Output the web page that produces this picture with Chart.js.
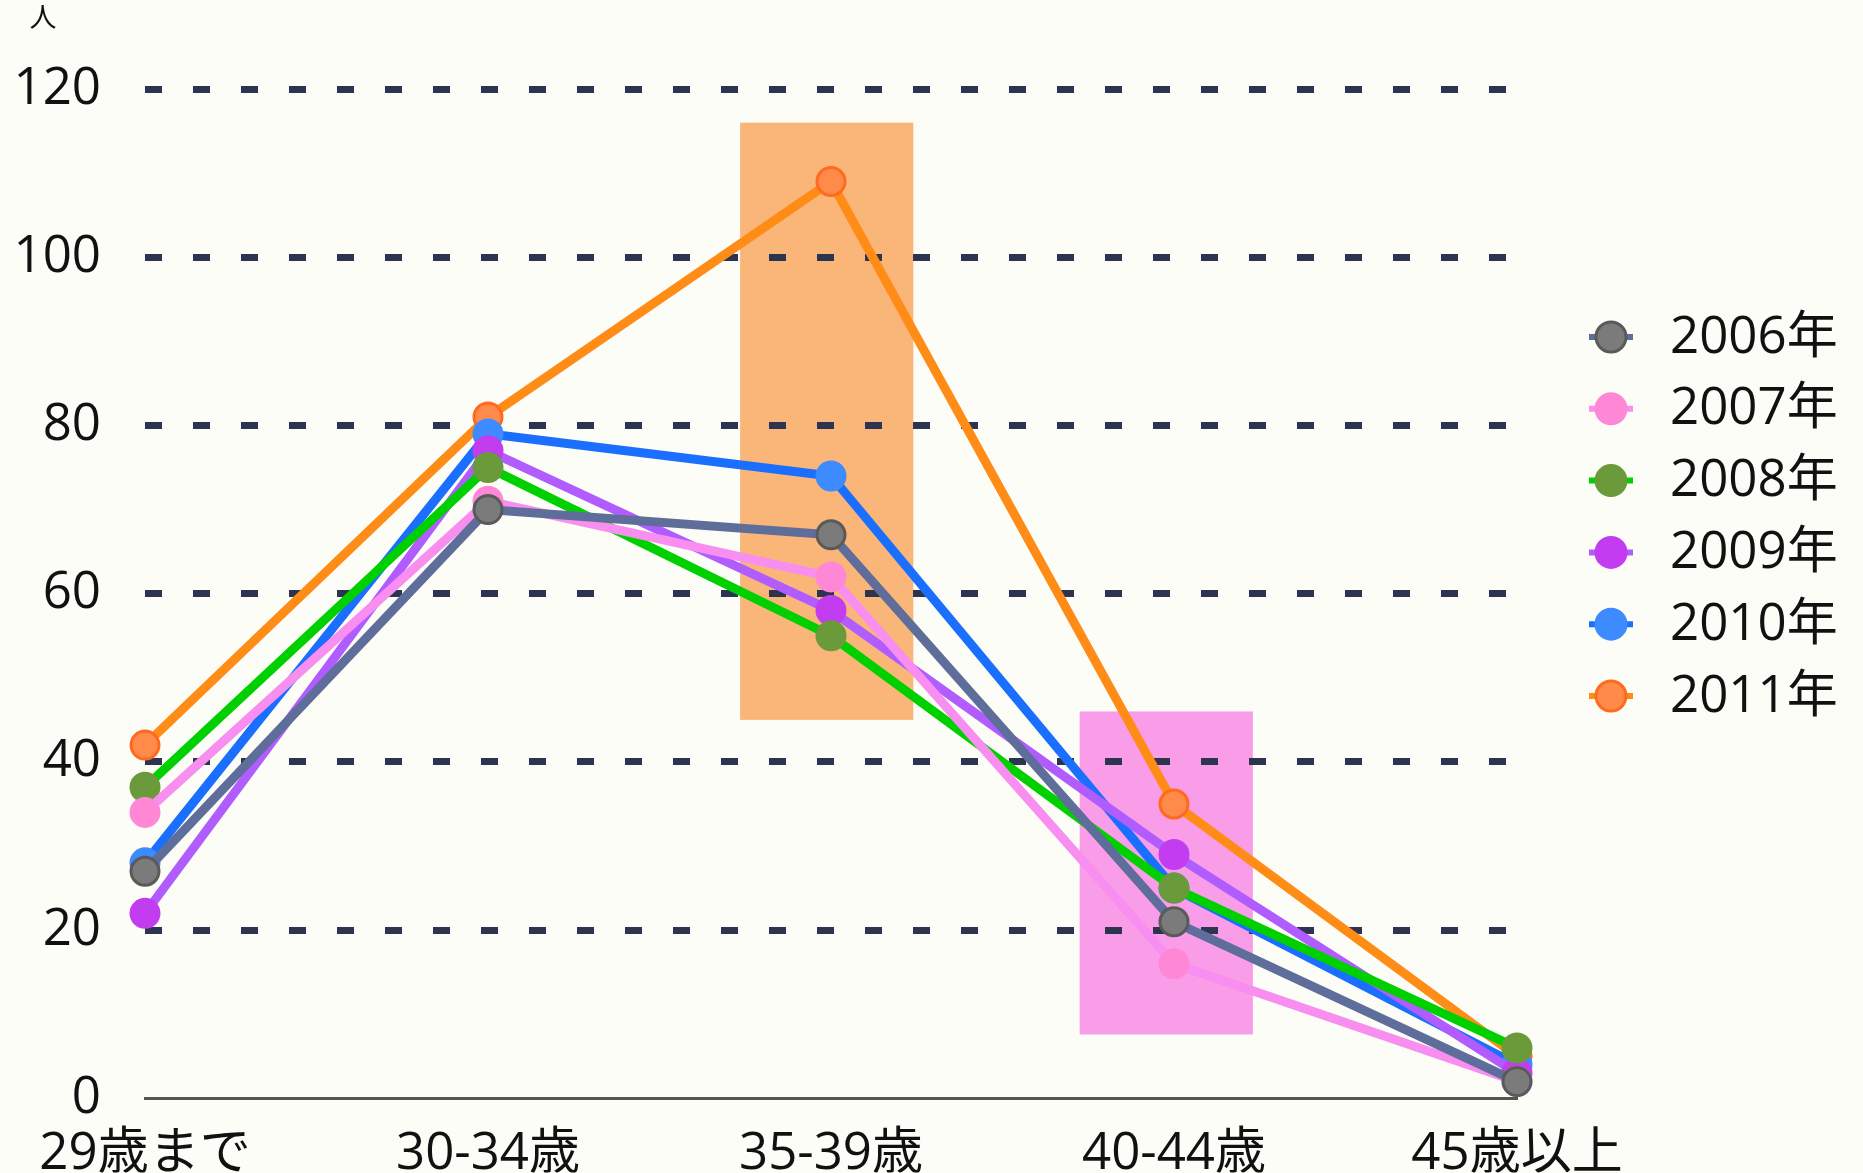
<!DOCTYPE html>
<html lang="ja">
<head>
<meta charset="utf-8">
<title>年齢別人数の推移</title>
<script src="https://cdn.jsdelivr.net/npm/chart.js@4/dist/chart.umd.min.js"></script>
<style>
  html, body { margin: 0; padding: 0; background: #fcfdf7; }
  #wrap { width: 1863px; height: 1173px; position: relative; }
  canvas { display: block; }
</style>
</head>
<body>
<div id="wrap"><canvas id="chart" width="1863" height="1173"></canvas></div>
<script>
// 年齢区分
const categories = ['29歳まで', '30-34歳', '35-39歳', '40-44歳', '45歳以上'];

// 年ごとの人数
const years = ['2006年', '2007年', '2008年', '2009年', '2010年', '2011年'];
const v2006 = [27, 70, 67, 21, 2];
const v2007 = [34, 71, 62, 16, 2];
const v2008 = [37, 75, 55, 25, 6];
const v2009 = [22, 77, 58, 29, 3];
const v2010 = [28, 79, 74, 25, 4];
const v2011 = [42, 81, 109, 35, 5];

// 縦軸の目盛り
const yTicks = [0, 20, 40, 60, 80, 100, 120];
const yUnit = '人';

// 強調する範囲（カテゴリ位置と人数の範囲）
const bandX = [[1.735, 2.24], [2.725, 3.23]];
const bandY = [[45, 116], [7.6, 46]];
const bandColors = ['#fab579', '#fa9de8'];

const seriesValues = [v2006, v2007, v2008, v2009, v2010, v2011];
const lineColors  = ['#5f6d9a', '#f78ef0', '#00d000', '#b05cff', '#1a6fff', '#ff8c17'];
const pointFills  = ['#7b7b7b', '#ff88d6', '#6a9a3a', '#c23cf0', '#3d8bff', '#ff8a4a'];
const pointEdges  = ['#5a5a5a', '#ff88d6', '#6a9a3a', '#c23cf0', '#3d8bff', '#ff6a1f'];

const FONT = '"Open Sans", "Noto Sans CJK JP", sans-serif';

const datasets = years.map((y, i) => ({
  label: y,
  data: seriesValues[i],
  borderColor: lineColors[i],
  backgroundColor: pointFills[i],
  borderWidth: 9,
  tension: 0,
  pointRadius: 14,
  pointHoverRadius: 14,
  pointBackgroundColor: pointFills[i],
  pointBorderColor: pointEdges[i],
  pointBorderWidth: 3
}));

// 強調帯：グリッドより先に描く
const bandsPlugin = {
  id: 'bands',
  beforeDraw(chart) {
    const { ctx, scales: { x, y } } = chart;
    ctx.save();
    bandX.forEach((bx, i) => {
      const l = x.getPixelForValue(bx[0]);
      const r = x.getPixelForValue(bx[1]);
      const t = y.getPixelForValue(bandY[i][1]);
      const b = y.getPixelForValue(bandY[i][0]);
      ctx.fillStyle = bandColors[i];
      ctx.fillRect(l, t, r - l, b - t);
    });
    ctx.restore();
  }
};

// 単位表示と凡例
const decorPlugin = {
  id: 'decor',
  afterDraw(chart) {
    const { ctx } = chart;
    ctx.save();
    ctx.fillStyle = '#111';
    ctx.font = '27px ' + FONT;
    ctx.textAlign = 'center';
    ctx.textBaseline = 'middle';
    ctx.fillText(yUnit, 43, 19);

    const x0 = 1611, y0 = 337, step = 71.8;
    chart.data.datasets.forEach((ds, i) => {
      const cy = y0 + i * step;
      ctx.strokeStyle = ds.borderColor;
      ctx.lineWidth = 6;
      ctx.beginPath();
      ctx.moveTo(x0 - 22, cy);
      ctx.lineTo(x0 + 22, cy);
      ctx.stroke();
      ctx.beginPath();
      ctx.arc(x0, cy, 15, 0, Math.PI * 2);
      ctx.fillStyle = ds.pointBackgroundColor;
      ctx.fill();
      ctx.lineWidth = 3;
      ctx.strokeStyle = ds.pointBorderColor;
      ctx.stroke();
      ctx.fillStyle = '#111';
      ctx.font = '51px ' + FONT;
      ctx.textAlign = 'left';
      ctx.textBaseline = 'middle';
      ctx.fillText(ds.label, 1670, cy + 1);
    });
    ctx.restore();
  }
};

new Chart(document.getElementById('chart'), {
  type: 'line',
  data: { labels: categories, datasets },
  options: {
    responsive: false,
    animation: false,
    events: [],
    layout: { padding: { left: 0, right: 346, top: 89, bottom: 0 } },
    plugins: {
      legend: { display: false },
      tooltip: { enabled: false }
    },
    scales: {
      x: {
        offset: false,
        grid: { display: false },
        border: { display: true, color: '#555555', width: 3 },
        ticks: {
          padding: 17,
          color: '#111',
          font: { family: FONT, size: 51 },
          maxRotation: 0,
          autoSkip: false
        },
        afterFit(scale) { scale.height = 74; }
      },
      y: {
        min: 0,
        max: 120,
        afterBuildTicks(scale) { scale.ticks = yTicks.map(v => ({ value: v })); },
        afterFit(scale) { scale.width = 145; },
        grid: {
          drawTicks: false,
          lineWidth: 7,
          color: c => (c.tick && c.tick.value === 0) ? 'rgba(0,0,0,0)' : '#2d3450'
        },
        border: { display: false, dash: [17, 31] },
        ticks: {
          padding: 44,
          color: '#111',
          font: { family: FONT, size: 51 }
        }
      }
    }
  },
  plugins: [bandsPlugin, decorPlugin]
});
</script>
</body>
</html>
